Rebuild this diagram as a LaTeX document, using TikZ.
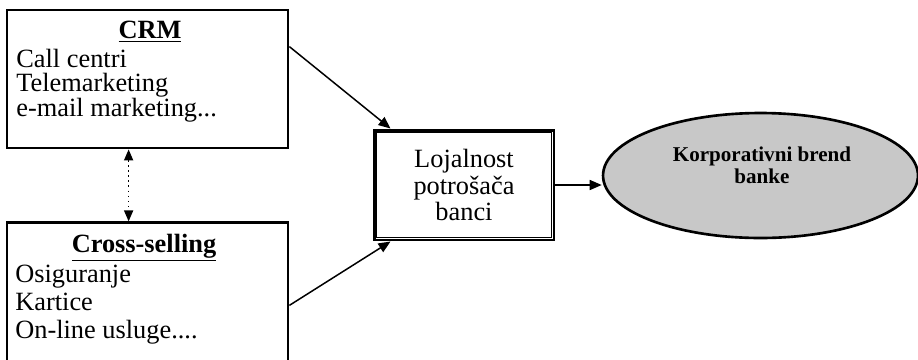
\documentclass[tikz,border=0pt]{standalone}
\usepackage{fontspec}
\setmainfont{Liberation Serif}
\usetikzlibrary{positioning,arrows.meta,calc,shapes.geometric}
\definecolor{brandgray}{HTML}{C8C8C8}
% fixed line pitch for the two lists
\newcommand{\crmrow}{\rule[-3.5pt]{0pt}{14pt}}
\newcommand{\crossrow}{\rule[-3.8pt]{0pt}{15pt}}
\tikzset{
  listbox/.style={draw, line width=1.6pt, minimum width=5.62cm, inner sep=0pt},
  headtext/.style={font=\fontsize{15}{15}\selectfont\bfseries, inner sep=0pt},
  itemtext/.style={align=left, font=\fontsize{15}{14}\selectfont, inner sep=0pt, anchor=north west},
  loyalbox/.style={draw, line width=1.7pt, minimum width=3.6cm, minimum height=2.2cm, align=center, font=\fontsize{15}{15.3}\selectfont, inner sep=0pt},
  brandnode/.style={ellipse, draw, line width=1.5pt, fill=brandgray, minimum width=6.3cm, minimum height=2.5cm, inner sep=0pt},
  brandtext/.style={align=center, font=\fontsize{12}{12.5}\selectfont\bfseries, inner sep=0pt},
  flowarrow/.style={-{Triangle[length=2.4mm,width=2mm]}, line width=0.85pt},
  linkarrow/.style={{Triangle[length=2.2mm,width=1.8mm]}-{Triangle[length=2.2mm,width=1.8mm]}, dotted, line width=0.9pt}
}

\begin{document}
\begin{tikzpicture}[x=0.02cm, y=-0.02cm]
  \useasboundingbox (0,0) rectangle (918,359);
  \clip (0,0) rectangle (918,359);
  \node[listbox, minimum height=2.76cm] (crm) at (147.5,79) {};
  \node[headtext] (crmhead) at (150,32) {\underline{CRM}};
  \node[itemtext] (crmitems) at (16,48.5) {\crmrow Call centri\\\crmrow Telemarketing\\\crmrow e-mail marketing...};
  \node[listbox, minimum height=3cm, below=1.44cm of crm] (cross) {};
  \node[headtext] (crosshead) at (144,248) {\underline{Cross-selling}};
  \node[itemtext] (crossitems) at (15,262.5) {\crossrow Osiguranje\\\crossrow Kartice\\\crossrow On-line usluge....};
  \node[loyalbox] (loyal) at (464,185) {Lojalnost\\potrošača\\banci};
  \draw[line width=0.5pt] ($(loyal.north west)+(4,4)$) rectangle ($(loyal.south east)+(-4,-4)$);
  \node[brandnode] (brand) at (760.5,175.5) {};
  \node[brandtext] (brandlabel) at (762,165.5) {Korporativni brend\\banke};
  \draw[flowarrow] ($(crm.north east)+(0,38)$) -- ($(loyal.north west)+(18,0)$);
  \draw[flowarrow] ($(cross.north east)+(0,84)$) -- ($(loyal.south west)+(18,0)$);
  \draw[flowarrow] (loyal.east) -- (loyal.east -| brand.west);
  \draw[linkarrow] ($(crm.south west)+(123,0)$) -- ($(cross.north west)+(123,0)$);
\end{tikzpicture}
\end{document}
